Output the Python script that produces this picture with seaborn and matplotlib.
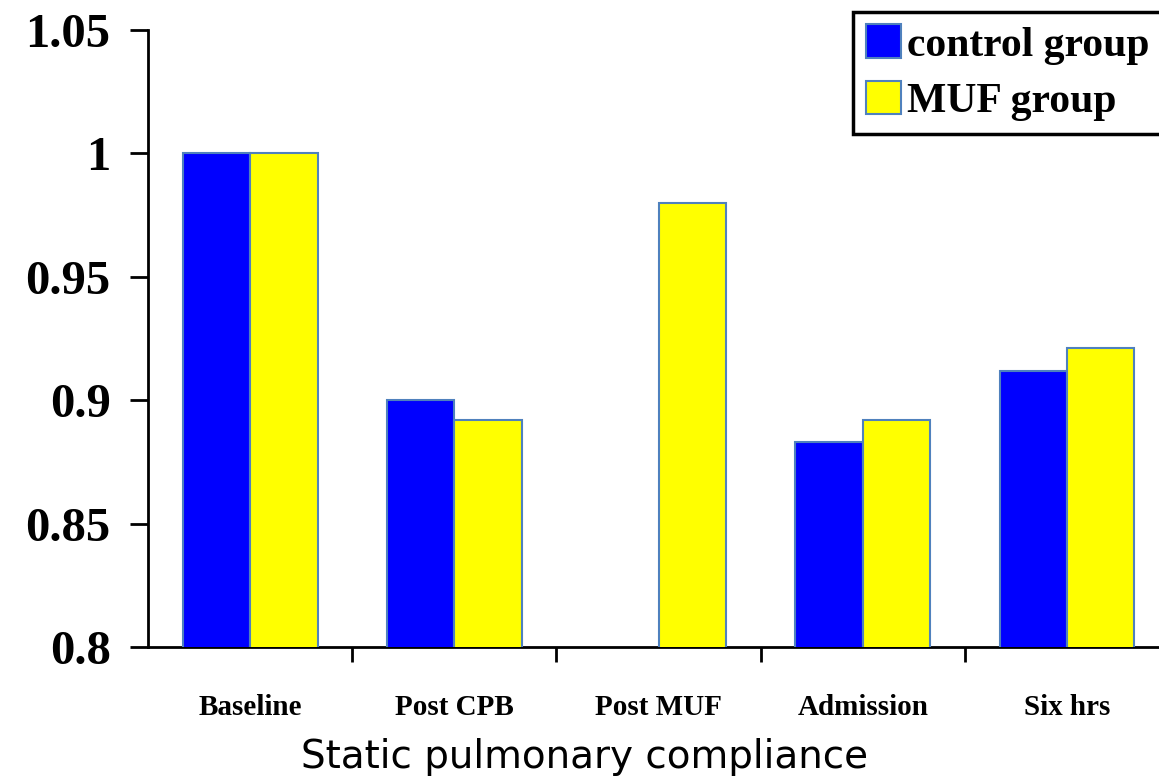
import matplotlib
matplotlib.use('Agg')
import matplotlib.pyplot as plt
import seaborn as sns
import numpy as np
import pandas as pd

stages = ['Baseline', 'Post CPB', 'Post MUF', 'Admission', 'Six hrs']
groups = ['control group', 'MUF group']
control = [1.0, 0.900, np.nan, 0.883, 0.912]
muf = [1.0, 0.892, 0.980, 0.892, 0.921]
yticks = [0.8, 0.85, 0.9, 0.95, 1.0, 1.05]
ytick_labels = ['0.8', '0.85', '0.9', '0.95', '1', '1.05']
colors = ['#0000ff', '#ffff00']

df = pd.DataFrame({
    'stage': stages * 2,
    'group': [groups[0]] * len(stages) + [groups[1]] * len(stages),
    'value': control + muf,
})

sns.set_style('white')
plt.rcParams['text.color'] = 'black'
plt.rcParams['xtick.color'] = 'black'
plt.rcParams['ytick.color'] = 'black'
serif = ['Liberation Serif', 'DejaVu Serif']

fig = plt.figure(figsize=(11.59, 7.81), dpi=100)
ax = fig.add_axes([148 / 1159, 1 - 647 / 781, 1 - 148 / 1159, (647 - 30) / 781])

sns.barplot(data=df, x='stage', y='value', hue='group', order=stages,
            hue_order=groups, palette=colors, saturation=1, width=0.66,
            errorbar=None, edgecolor='#4f81bd', linewidth=1.5, ax=ax, zorder=3)

ax.set_ylim(0.8, 1.05)
ax.set_xlim(-0.5, 4.45)
ax.set_yticks(yticks)
ax.set_yticklabels(ytick_labels, fontfamily=serif, fontweight='bold', fontsize=35)
ax.set_xticks(range(len(stages)))
ax.set_xticklabels(stages, fontfamily=serif, fontweight='bold', fontsize=21)
ax.set_xticks(np.arange(len(stages) - 1) + 0.5, minor=True)
ax.tick_params(axis='x', which='major', bottom=False, length=0, pad=34)
ax.tick_params(axis='x', which='minor', bottom=True, length=11, width=2, direction='out')
ax.tick_params(axis='y', which='major', left=True, length=13, width=2, direction='out', pad=14)
ax.set_xlabel('')
ax.set_ylabel('')

for side in ['top', 'right']:
    ax.spines[side].set_visible(False)
for side in ['left', 'bottom']:
    ax.spines[side].set_color('black')
    ax.spines[side].set_linewidth(2)

handles, labels = ax.get_legend_handles_labels()
if ax.legend_:
    ax.legend_.remove()
leg = fig.legend(handles, labels, loc='upper left',
                 bbox_to_anchor=(853 / 1159, 1 - 12 / 781),
                 prop={'family': serif, 'weight': 'bold', 'size': 30},
                 frameon=True, fancybox=False, framealpha=1, handlelength=0.85,
                 handleheight=0.85, handletextpad=0.15, labelspacing=0.4,
                 borderpad=0.3, borderaxespad=0)
leg.get_frame().set_edgecolor('black')
leg.get_frame().set_linewidth(2.5)

fig.text(0.504, 1 - 768 / 781, 'Static pulmonary compliance',
         ha='center', va='baseline', fontsize=28, fontfamily='DejaVu Sans',
         color='black')

fig.savefig('out.png', dpi=100)
